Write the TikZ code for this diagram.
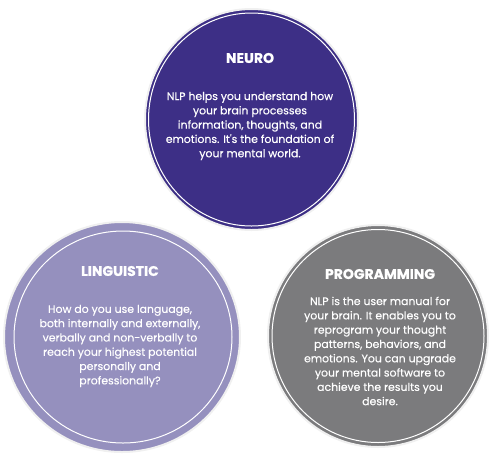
\documentclass[tikz,border=0pt]{standalone}
\usepackage{fontspec}
\setmainfont{Poppins}
\newfontfamily\bodyfont{Poppins}[FakeBold=0.35]
\newfontfamily\titlefont{Poppins Bold}[FakeBold=0.6]
\usepackage{xcolor}
\usetikzlibrary{shapes.geometric}
\definecolor{neurocol}{HTML}{3D2F86}
\definecolor{lingcol}{HTML}{9590BE}
\definecolor{progcol}{HTML}{7B7B7D}

\begin{document}
\begin{tikzpicture}[
    x=1pt, y=-1pt,
    disc/.style={ellipse, draw=gray!12, line width=2pt, inner sep=0pt},
    ring/.style={ellipse, draw=white, line width=1pt, inner sep=0pt},
    title/.style={font=\titlefont\fontsize{14}{16}\selectfont, text=white},
    body/.style={font=\bodyfont\fontsize{10.9}{14.3}\selectfont, text=white, align=center}
]
    \useasboundingbox (0,0) rectangle (500,459);
    % lower circles
    \node[disc, fill=lingcol, minimum width=236pt, minimum height=230pt] (ling) at (122,337) {};
    \node[ring, minimum width=218pt, minimum height=212pt] (lingring) at (123,337) {};
    \node[disc, fill=progcol, minimum width=220pt, minimum height=222pt] (prog) at (378,336) {};
    \node[ring, minimum width=212pt, minimum height=213pt] (progring) at (prog.center) {};
    % top circle
    \node[disc, fill=neurocol, minimum width=213pt, minimum height=221pt] (neuro) at (251.5,119.5) {};
    \node[ring, minimum width=206pt, minimum height=213pt] (neuroring) at (neuro.center) {};

    \node[title] (neurotitle) at (250,58) {NEURO};
    \node[body] (neurotext) at (250,126) {NLP helps you understand how\\your brain processes\\information, thoughts, and\\emotions. It's the foundation of\\your mental world.};

    \node[title] (lingtitle) at (120,271) {LINGUISTIC};
    \node[body] (lingtext) at (120,346) {How do you use language,\\both internally and externally,\\verbally and non-verbally to\\reach your highest potential\\personally and\\professionally?};

    \node[title] (progtitle) at (380,274) {PROGRAMMING};
    \node[body] (progtext) at (380,351) {NLP is the user manual for\\your brain. It enables you to\\reprogram your thought\\patterns, behaviors, and\\emotions. You can upgrade\\your mental software to\\achieve the results you\\desire.};
\end{tikzpicture}
\end{document}
